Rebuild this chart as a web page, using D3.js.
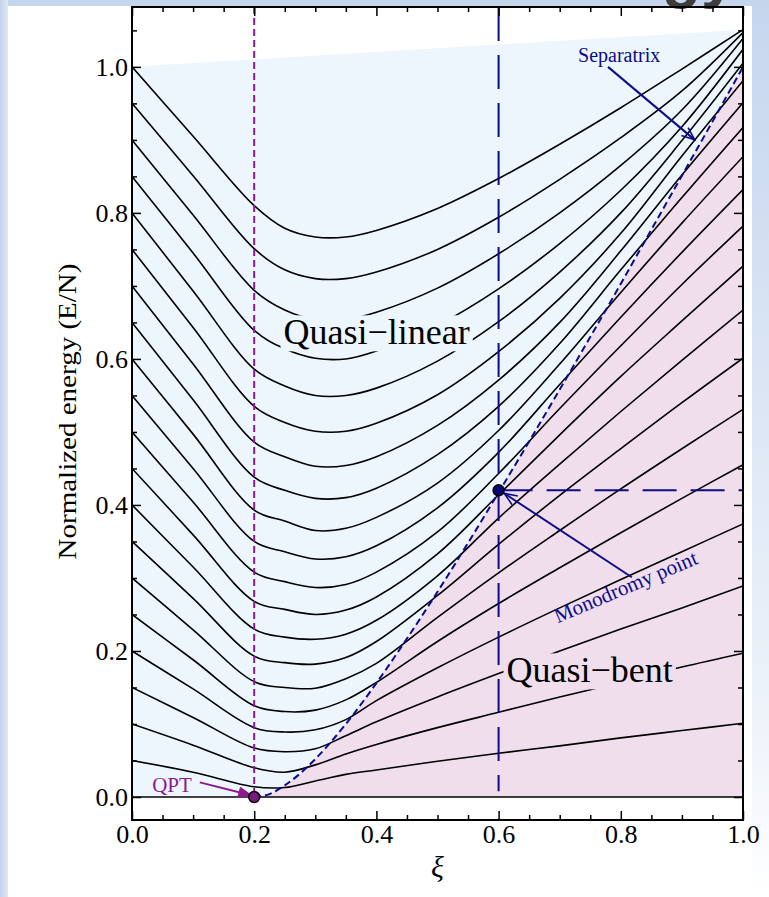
<!DOCTYPE html>
<html>
<head>
<meta charset="utf-8">
<script src="https://cdn.jsdelivr.net/npm/d3@7"></script>
<style>
  body { margin: 0; background: #fff; }
  svg { display: block; font-family: "Liberation Serif", "Times New Roman", serif; }
</style>
</head>
<body>
<div id="chart"></div>
<script>
// ---- data ----
// control parameter xi (columns) and normalized energy of each level (rows)
const xi  = [0, 0.1, 0.2, 0.25, 0.3, 0.35, 0.4, 0.5, 0.6, 0.7, 0.8, 0.9, 1.0];
const E0  = [0, 0, 0, 0, 0, 0, 0, 0, 0, 0, 0, 0, 0];
const E1  = [0.05, 0.034, 0.014, 0.013, 0.022, 0.031, 0.037, 0.049, 0.060, 0.070, 0.081, 0.091, 0.101];
const E2  = [0.10, 0.071, 0.040, 0.034, 0.044, 0.059, 0.072, 0.095, 0.116, 0.137, 0.157, 0.178, 0.197];
const E3  = [0.15, 0.109, 0.067, 0.062, 0.066, 0.084, 0.103, 0.137, 0.169, 0.200, 0.230, 0.259, 0.289];
const E4  = [0.20, 0.148, 0.095, 0.089, 0.092, 0.106, 0.132, 0.177, 0.219, 0.259, 0.298, 0.336, 0.374];
const E5  = [0.25, 0.188, 0.125, 0.117, 0.119, 0.133, 0.157, 0.213, 0.265, 0.314, 0.362, 0.409, 0.455];
const E6  = [0.30, 0.229, 0.158, 0.150, 0.149, 0.162, 0.183, 0.246, 0.307, 0.365, 0.422, 0.477, 0.531];
const E7  = [0.35, 0.272, 0.193, 0.184, 0.182, 0.191, 0.213, 0.276, 0.346, 0.413, 0.477, 0.540, 0.601];
const E8  = [0.40, 0.315, 0.230, 0.219, 0.216, 0.223, 0.242, 0.303, 0.382, 0.456, 0.528, 0.598, 0.667];
const E9  = [0.45, 0.359, 0.268, 0.257, 0.250, 0.256, 0.274, 0.333, 0.414, 0.496, 0.576, 0.652, 0.727];
const E10 = [0.50, 0.404, 0.308, 0.295, 0.287, 0.291, 0.308, 0.363, 0.443, 0.532, 0.618, 0.702, 0.782];
const E11 = [0.55, 0.450, 0.350, 0.336, 0.326, 0.329, 0.344, 0.396, 0.472, 0.565, 0.657, 0.746, 0.832];
const E12 = [0.60, 0.497, 0.393, 0.378, 0.365, 0.368, 0.383, 0.430, 0.502, 0.593, 0.691, 0.786, 0.877];
const E13 = [0.65, 0.544, 0.438, 0.420, 0.409, 0.410, 0.423, 0.469, 0.535, 0.621, 0.722, 0.821, 0.917];
const E14 = [0.70, 0.593, 0.486, 0.466, 0.453, 0.454, 0.466, 0.509, 0.571, 0.650, 0.748, 0.852, 0.951];
const E15 = [0.75, 0.643, 0.535, 0.513, 0.501, 0.501, 0.512, 0.551, 0.610, 0.683, 0.772, 0.878, 0.981];
const E16 = [0.80, 0.693, 0.586, 0.563, 0.550, 0.550, 0.560, 0.597, 0.651, 0.719, 0.800, 0.899, 1.005];
const E17 = [0.85, 0.745, 0.639, 0.614, 0.601, 0.600, 0.611, 0.646, 0.696, 0.758, 0.831, 0.918, 1.024];
const E18 = [0.90, 0.797, 0.694, 0.667, 0.654, 0.654, 0.664, 0.697, 0.744, 0.800, 0.865, 0.941, 1.039];
const E19 = [0.95, 0.851, 0.751, 0.722, 0.710, 0.710, 0.719, 0.750, 0.794, 0.846, 0.903, 0.967, 1.047];
const E20 = [1.00, 0.905, 0.810, 0.779, 0.767, 0.767, 0.776, 0.806, 0.847, 0.894, 0.944, 0.997, 1.051];
const levels = [E0, E1, E2, E3, E4, E5, E6, E7, E8, E9, E10, E11, E12, E13, E14, E15, E16, E17, E18, E19, E20];

// separatrix (dashed) and upper edge of the shaded region
const sepXi = [0.2, 0.225, 0.25, 0.275, 0.3, 0.35, 0.4, 0.45, 0.5, 0.55, 0.6, 0.65, 0.7, 0.75, 0.8, 0.85, 0.9, 0.95, 1.0];
const sepE  = [0, 0.004, 0.016, 0.032, 0.052, 0.100, 0.156, 0.217, 0.281, 0.348, 0.417, 0.487, 0.558, 0.630, 0.703, 0.777, 0.851, 0.925, 1.0];
const topXi = [0, 1];
const topE  = [1.0, 1.051];

// special points
const qpt = [0.2, 0];
const monodromy = [0.6, 0.42];

// ticks
const xMajor = [0, 0.2, 0.4, 0.6, 0.8, 1.0];
const xMinor = [0.05, 0.1, 0.15, 0.25, 0.3, 0.35, 0.45, 0.5, 0.55, 0.65, 0.7, 0.75, 0.85, 0.9, 0.95];
const yMajor = [0, 0.2, 0.4, 0.6, 0.8, 1.0];
const yMinor = [0.05, 0.1, 0.15, 0.25, 0.3, 0.35, 0.45, 0.5, 0.55, 0.65, 0.7, 0.75, 0.85, 0.9, 0.95, 1.05];

// annotation anchors (data units)
const qptLabel = [0.033, 0.007];
const qptArrow = [[0.111, 0.020], [0.196, 0.002]];
const sepLabel = [0.73, 1.007];
const sepArrow = [[0.779, 1.0], [0.921, 0.90]];
const monoLabel = [0.697, 0.238];
const monoArrow = [[0.818, 0.301], [0.609, 0.416]];
const linLabel = [0.248, 0.62];
const bentLabel = [0.613, 0.157];

// ---- layout ----
const W = 769, H = 897;
const x = d3.scaleLinear().domain([0, 1]).range([132, 743]);
const y = d3.scaleLinear().domain([-0.0315, 1.082]).range([820, 7]);

const navy = "#0c0c88";
const purple = "#8c1a8c";
const lightBlue = "#edf5fd";
const pink = "#f0deec";

const svg = d3.select("#chart").append("svg")
  .attr("width", W)
  .attr("height", H);

// page decoration (slide background strips)
const defs = svg.append("defs");
const gl = defs.append("linearGradient").attr("id", "leftStrip").attr("x1", 0).attr("x2", 1);
gl.append("stop").attr("offset", 0).attr("stop-color", "#c3d4ec");
gl.append("stop").attr("offset", 1).attr("stop-color", "#dfe8f4");
const gr = defs.append("linearGradient").attr("id", "rightStrip").attr("x1", 0).attr("x2", 0).attr("y1", 0).attr("y2", 1);
gr.append("stop").attr("offset", 0).attr("stop-color", "#c6d6ee");
gr.append("stop").attr("offset", 0.8).attr("stop-color", "#eef3fa");
gr.append("stop").attr("offset", 1).attr("stop-color", "#ffffff");

svg.append("rect").attr("x", 0).attr("y", 0).attr("width", W).attr("height", H).attr("fill", "#fff");
svg.append("rect").attr("x", 752).attr("y", 0).attr("width", 17).attr("height", H).attr("fill", "url(#rightStrip)");
svg.append("rect").attr("x", 0).attr("y", 0).attr("width", W).attr("height", 6).attr("fill", "#c5d5ec");
svg.append("rect").attr("x", 0).attr("y", 0).attr("width", 8).attr("height", H).attr("fill", "url(#leftStrip)");
// bottom of the slide title, cut by the top edge as in the source
svg.append("text")
  .attr("x", 662).attr("y", -4)
  .style("font-family", "'Liberation Sans', sans-serif")
  .style("font-weight", "bold")
  .style("font-size", "64px")
  .attr("fill", "#3d3d3d")
  .text("gy");

// clip to the plot frame
defs.append("clipPath").attr("id", "plotClip")
  .append("rect")
  .attr("x", x(0)).attr("y", y(1.082))
  .attr("width", x(1) - x(0)).attr("height", y(-0.0315) - y(1.082));

const plot = svg.append("g").attr("clip-path", "url(#plotClip)");

const sepPts = d3.zip(sepXi, sepE);
const topPts = d3.zip(topXi, topE);

// shaded regions
const polyLine = d3.line().x(d => x(d[0])).y(d => y(d[1]));
const sepCurve = d3.line().x(d => x(d[0])).y(d => y(d[1])).curve(d3.curveMonotoneX);

// quasi-linear region: above separatrix, below the top edge
const bluePts = [[0, 0], topPts[0], topPts[1]].concat(sepPts.slice().reverse()).concat([[0.2, 0]]);
plot.append("path")
  .attr("d", polyLine(bluePts) + "Z")
  .attr("fill", lightBlue);

// quasi-bent region: below separatrix, above zero
const pinkPts = sepPts.concat([[1, 0]]);
plot.append("path")
  .attr("d", polyLine(pinkPts) + "Z")
  .attr("fill", pink);

// energy levels
const levelLine = d3.line()
  .x(d => x(d[0]))
  .y(d => y(d[1]))
  .curve(d3.curveCatmullRom.alpha(0.5));

plot.selectAll(".level")
  .data(levels)
  .join("path")
  .attr("class", "level")
  .attr("d", E => levelLine(d3.zip(xi, E)))
  .attr("fill", "none")
  .attr("stroke", "#000")
  .attr("stroke-width", 1.6);

// vertical marker lines
plot.append("line")
  .attr("x1", x(qpt[0])).attr("x2", x(qpt[0]))
  .attr("y1", y(1.082)).attr("y2", y(qpt[1]))
  .attr("stroke", purple).attr("stroke-width", 2)
  .attr("stroke-dasharray", "7,4");

plot.append("line")
  .attr("x1", x(monodromy[0])).attr("x2", x(monodromy[0]))
  .attr("y1", y(1.082)).attr("y2", y(0.008))
  .attr("stroke", navy).attr("stroke-width", 2)
  .attr("stroke-dasharray", "34,14");

plot.append("line")
  .attr("x1", x(monodromy[0])).attr("x2", x(1))
  .attr("y1", y(monodromy[1])).attr("y2", y(monodromy[1]))
  .attr("stroke", navy).attr("stroke-width", 2)
  .attr("stroke-dasharray", "34,14");

// separatrix
plot.append("path")
  .attr("d", sepCurve(sepPts))
  .attr("fill", "none")
  .attr("stroke", navy)
  .attr("stroke-width", 2)
  .attr("stroke-dasharray", "7,4");

// region labels with masking boxes
function regionLabel(pos, txt, bg) {
  const g = svg.append("g");
  const t = g.append("text")
    .attr("x", x(pos[0]))
    .attr("y", y(pos[1]))
    .style("font-size", "36px")
    .attr("fill", "#000")
    .text(txt);
  const bb = t.node().getBBox();
  g.insert("rect", "text")
    .attr("x", bb.x - 3)
    .attr("y", y(pos[1]) - 29)
    .attr("width", bb.width + 6)
    .attr("height", 36)
    .attr("fill", bg);
}
regionLabel(linLabel, "Quasi\u2212linear", lightBlue);
regionLabel(bentLabel, "Quasi\u2212bent", pink);

// arrows
function arrow(pts, color, filled) {
  const x0 = x(pts[0][0]), y0 = y(pts[0][1]);
  const x1 = x(pts[1][0]), y1 = y(pts[1][1]);
  const ang = Math.atan2(y1 - y0, x1 - x0);
  const L = 14, A = 0.38;
  const p1 = [x1 - L * Math.cos(ang - A), y1 - L * Math.sin(ang - A)];
  const p2 = [x1 - L * Math.cos(ang + A), y1 - L * Math.sin(ang + A)];
  svg.append("line")
    .attr("x1", x0).attr("y1", y0)
    .attr("x2", filled ? x1 - 6 * Math.cos(ang) : x1)
    .attr("y2", filled ? y1 - 6 * Math.sin(ang) : y1)
    .attr("stroke", color).attr("stroke-width", 2);
  svg.append("path")
    .attr("d", `M${p1[0]},${p1[1]}L${x1},${y1}L${p2[0]},${p2[1]}` + (filled ? "Z" : ""))
    .attr("fill", filled ? color : "none")
    .attr("stroke", color)
    .attr("stroke-width", filled ? 1 : 1.6);
}

arrow(qptArrow, purple, true);
arrow(sepArrow, navy, false);
arrow(monoArrow, navy, false);

// annotation texts
svg.append("text")
  .attr("x", x(qptLabel[0])).attr("y", y(qptLabel[1]))
  .style("font-size", "21px")
  .attr("fill", purple)
  .text("QPT");

svg.append("text")
  .attr("x", x(sepLabel[0])).attr("y", y(sepLabel[1]))
  .style("font-size", "20px")
  .attr("fill", navy)
  .text("Separatrix");

svg.append("text")
  .attr("transform", `translate(${x(monoLabel[0])},${y(monoLabel[1])}) rotate(-23)`)
  .style("font-size", "21px")
  .attr("fill", navy)
  .text("Monodromy point");

// points
svg.append("circle")
  .attr("cx", x(qpt[0])).attr("cy", y(qpt[1]))
  .attr("r", 5.5)
  .attr("fill", "#7a1a7a")
  .attr("stroke", "#000").attr("stroke-width", 1.5);

svg.append("circle")
  .attr("cx", x(monodromy[0])).attr("cy", y(monodromy[1]))
  .attr("r", 5.5)
  .attr("fill", "#06066e")
  .attr("stroke", "#000").attr("stroke-width", 1.5);

// ---- axes with inward ticks on all four sides ----
function styleAxis(g) {
  g.select(".domain").remove();
  g.selectAll(".tick line").attr("stroke", "#000").attr("stroke-width", 1.5);
  g.selectAll(".tick text")
    .attr("fill", "#000")
    .style("font-family", "'Liberation Serif', 'Times New Roman', serif")
    .style("font-size", "26px");
}

svg.append("g")
  .attr("transform", `translate(0,${y(-0.0315)})`)
  .call(d3.axisBottom(x).tickValues(xMajor).tickSize(-9).tickPadding(5).tickFormat(d3.format(".1f")))
  .call(styleAxis);
svg.append("g")
  .attr("transform", `translate(0,${y(-0.0315)})`)
  .call(d3.axisBottom(x).tickValues(xMinor).tickSize(-5).tickFormat(""))
  .call(styleAxis);
svg.append("g")
  .attr("transform", `translate(0,${y(1.082)})`)
  .call(d3.axisTop(x).tickValues(xMajor).tickSize(-9).tickFormat(""))
  .call(styleAxis);
svg.append("g")
  .attr("transform", `translate(0,${y(1.082)})`)
  .call(d3.axisTop(x).tickValues(xMinor).tickSize(-5).tickFormat(""))
  .call(styleAxis);

svg.append("g")
  .attr("transform", `translate(${x(0)},0)`)
  .call(d3.axisLeft(y).tickValues(yMajor).tickSize(-9).tickPadding(4).tickFormat(d3.format(".1f")))
  .call(styleAxis);
svg.append("g")
  .attr("transform", `translate(${x(0)},0)`)
  .call(d3.axisLeft(y).tickValues(yMinor).tickSize(-5).tickFormat(""))
  .call(styleAxis);
svg.append("g")
  .attr("transform", `translate(${x(1)},0)`)
  .call(d3.axisRight(y).tickValues(yMajor).tickSize(-9).tickFormat(""))
  .call(styleAxis);
svg.append("g")
  .attr("transform", `translate(${x(1)},0)`)
  .call(d3.axisRight(y).tickValues(yMinor).tickSize(-5).tickFormat(""))
  .call(styleAxis);

// frame
svg.append("rect")
  .attr("x", x(0)).attr("y", y(1.082))
  .attr("width", x(1) - x(0))
  .attr("height", y(-0.0315) - y(1.082))
  .attr("fill", "none")
  .attr("stroke", "#000")
  .attr("stroke-width", 2);

// axis titles
svg.append("text")
  .attr("transform", `translate(76,${(y(-0.0315) + y(1.082)) / 2 - 2}) rotate(-90)`)
  .attr("text-anchor", "middle")
  .attr("textLength", 296)
  .attr("lengthAdjust", "spacingAndGlyphs")
  .style("font-size", "26px")
  .attr("fill", "#000")
  .text("Normalized energy (E/N)");

svg.append("text")
  .attr("x", (x(0) + x(1)) / 2)
  .attr("y", 877)
  .attr("text-anchor", "middle")
  .style("font-size", "30px")
  .style("font-style", "italic")
  .attr("fill", "#000")
  .text("\u03be");
</script>
</body>
</html>
